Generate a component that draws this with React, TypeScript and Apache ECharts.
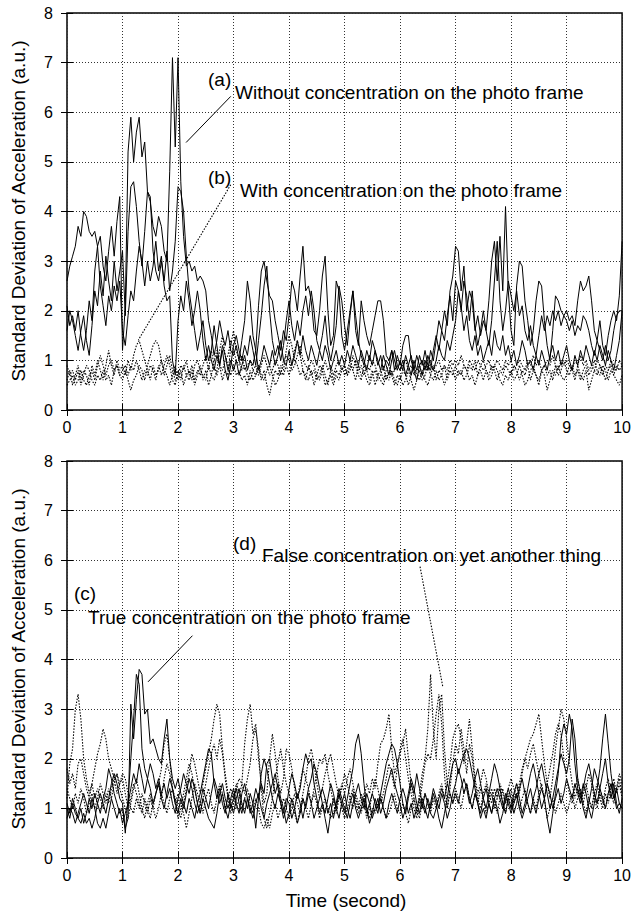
import React, { useEffect, useRef } from "react";
import * as echarts from "echarts";

const FONT = "'Liberation Sans', Arial, Helvetica, sans-serif";
const T_STEP = 0.05;

const xTicks = [0, 1, 2, 3, 4, 5, 6, 7, 8, 9, 10];
const yTicks = [0, 1, 2, 3, 4, 5, 6, 7, 8];

// ---- Top panel: (a) without concentration (solid) ----
const topSolid1 = [
  2.6,2.9,3.1,3.3,3.7,3.5,4.0,3.9,3.6,3.5,3.6,3.3,3.5,2.9,2.6,3.2,3.7,3.1,3.8,4.3,
  1.2,2.1,5.2,5.9,5.0,5.6,5.9,5.1,5.4,4.4,4.2,3.7,3.5,3.9,3.7,3.2,3.0,4.8,7.1,5.3,
  7.1,4.6,3.5,2.9,3.0,2.8,2.9,2.6,2.7,2.6,2.4,1.8,1.5,1.1,1.4,1.8,1.5,1.3,1.6,1.2,
  1.1,1.3,1.0,1.4,1.8,2.6,2.2,1.5,1.2,2.1,2.8,3.0,2.6,2.3,2.2,1.8,1.5,1.2,1.6,1.4,
  1.9,2.6,2.4,2.0,2.7,3.3,2.4,2.5,2.2,1.6,1.5,2.0,2.7,3.1,2.0,1.3,1.5,2.6,2.4,1.5,
  1.2,1.6,2.0,2.4,1.9,1.4,1.1,0.9,1.2,1.0,1.4,1.2,0.9,1.1,0.8,1.0,0.9,1.2,0.8,1.1,
  0.9,1.3,1.5,1.5,1.0,0.8,1.1,0.9,0.7,1.0,0.8,1.2,1.0,1.4,1.8,1.6,2.0,1.7,2.4,2.7,
  3.3,3.2,2.4,2.9,2.0,2.4,2.2,1.6,1.9,1.5,1.8,1.6,2.2,3.0,3.4,2.6,3.5,2.4,4.1,2.4,
  1.6,1.3,2.5,3.0,2.9,2.2,1.8,1.3,1.6,2.2,2.6,2.5,1.8,1.3,1.0,1.6,2.3,2.2,2.0,1.9,
  2.0,1.8,1.9,1.7,2.2,2.6,2.4,2.5,2.7,2.2,1.6,1.4,1.8,1.3,1.1,1.5,1.8,2.0,1.8,2.3,
  3.4,
];
const topSolid2 = [
  1.6,2.0,1.8,1.5,1.2,1.6,1.9,1.4,1.1,1.7,2.4,2.1,2.8,2.3,3.1,2.6,2.2,3.0,2.4,2.8,
  3.2,1.9,3.6,4.5,4.6,4.1,3.4,2.9,3.6,4.4,4.3,3.2,2.8,2.6,3.0,2.6,3.2,2.4,2.8,3.4,
  4.5,4.4,4.0,3.1,2.4,2.0,1.6,1.2,1.5,1.8,1.3,1.0,1.2,1.7,1.3,0.9,1.2,0.8,0.6,0.9,
  1.3,1.5,1.2,1.0,1.3,1.1,1.5,1.2,0.9,1.4,1.9,2.5,2.9,2.0,1.4,1.1,1.3,1.0,1.3,1.8,
  2.2,1.7,1.4,1.8,1.5,2.0,2.3,1.9,2.4,2.0,1.4,1.2,1.5,1.9,1.3,1.0,1.3,1.7,2.5,2.2,
  1.7,1.3,1.9,2.4,1.6,1.3,2.2,1.8,1.5,1.3,1.6,1.9,2.2,2.2,1.8,1.1,1.0,1.2,1.0,0.8,
  1.0,0.8,1.1,0.9,0.7,1.0,0.8,1.1,0.9,1.2,0.9,0.8,1.2,1.5,1.2,1.6,1.4,1.9,2.3,1.8,
  2.6,2.4,2.0,2.6,2.3,1.8,2.4,1.7,1.3,1.6,2.0,1.6,1.3,1.8,2.6,3.4,2.2,1.6,2.0,2.6,
  2.3,2.0,2.4,1.9,2.1,1.6,1.4,1.7,1.3,1.1,1.5,1.9,1.6,1.9,1.7,2.0,1.8,2.0,1.7,1.9,
  1.8,1.6,1.8,1.5,1.7,1.6,1.9,1.8,1.6,1.3,1.1,1.4,1.2,1.0,1.3,1.0,1.2,1.6,1.9,2.0,
  2.0,
];
const topSolid3 = [
  2.1,1.7,1.9,1.6,2.0,1.5,1.2,1.6,2.2,1.8,2.8,3.3,2.5,2.1,1.7,2.3,2.0,2.5,2.2,2.6,
  1.6,1.3,1.9,2.4,2.2,2.8,3.3,3.0,2.5,3.0,2.6,2.9,3.4,2.8,3.1,2.5,2.2,2.3,1.0,0.7,
  1.8,2.3,2.0,2.6,2.2,1.7,2.0,2.4,2.0,1.4,1.0,1.3,1.0,0.8,1.1,0.9,1.3,1.1,0.8,1.0,
  0.8,1.0,0.7,0.9,1.1,0.8,1.0,0.9,1.2,0.8,1.0,1.3,1.1,0.9,1.2,0.9,1.1,1.4,1.0,0.9,
  1.2,0.9,1.1,1.4,1.1,1.5,1.2,1.0,1.3,1.1,0.9,1.2,1.0,1.3,1.1,0.8,1.0,1.2,0.9,1.1,
  0.9,1.2,1.0,1.3,1.1,0.9,1.2,1.0,0.8,1.1,0.9,1.2,1.0,0.8,1.1,0.9,0.7,1.0,1.2,0.9,
  0.8,1.0,0.7,0.9,1.1,0.8,0.6,0.9,1.0,0.8,1.1,0.9,0.8,1.0,1.3,1.1,1.0,1.4,1.2,1.5,
  1.8,2.4,2.1,1.6,1.9,1.4,1.2,1.5,1.1,1.3,1.0,1.2,1.4,1.1,1.6,1.3,1.2,1.5,1.1,1.3,
  1.0,1.2,0.9,1.1,1.4,1.2,0.9,1.0,0.8,1.1,0.9,1.2,1.0,0.8,1.1,1.3,1.0,1.2,0.9,1.1,
  1.3,1.0,0.8,1.1,0.9,1.2,1.0,1.3,1.1,0.9,1.2,1.0,1.3,1.1,0.9,1.2,1.0,0.8,1.1,1.4,
  2.0,
];

// ---- Top panel: (b) with concentration (dotted) ----
const topDotted1 = [
  0.6,0.8,0.5,0.7,0.9,0.6,0.8,0.7,0.5,0.9,0.7,1.0,0.8,0.6,0.9,1.2,0.9,0.7,1.0,0.8,
  0.9,0.7,1.0,0.8,1.1,1.3,1.4,1.2,1.0,0.8,0.6,0.9,0.7,0.8,1.0,0.7,0.9,1.1,0.8,0.6,
  0.7,0.9,0.8,1.0,0.7,0.9,0.6,0.8,0.7,0.9,1.1,0.8,1.2,0.9,0.7,0.9,0.6,0.8,0.7,1.3,
  1.6,1.2,1.0,0.8,0.9,0.7,0.6,0.8,0.7,0.9,0.6,0.8,0.5,0.3,0.6,0.8,0.7,0.9,0.8,1.2,
  1.5,1.3,1.0,0.9,0.7,0.8,0.6,0.9,0.7,0.8,0.6,0.7,0.9,0.7,0.5,0.8,0.6,0.8,0.7,0.9,
  0.7,0.8,1.0,0.8,0.6,0.9,0.7,0.8,0.6,0.5,0.7,0.8,0.6,0.7,0.9,0.6,0.8,0.7,0.5,0.7,
  0.6,0.8,0.7,0.5,0.7,0.9,0.7,0.6,0.8,0.6,0.5,0.7,0.9,0.6,0.8,0.7,0.9,0.6,0.8,0.7,
  0.9,0.7,0.8,0.6,0.7,0.9,0.8,1.0,0.7,0.8,0.6,0.8,0.7,0.9,0.8,0.6,0.8,0.7,0.9,0.8,
  0.7,0.9,0.8,0.6,0.8,0.7,0.9,0.6,0.8,0.7,0.5,0.8,0.9,0.7,0.8,0.6,0.9,0.7,0.8,1.0,
  0.8,0.7,0.9,0.7,0.8,0.6,0.8,0.9,0.7,0.8,1.0,0.8,0.7,0.9,0.8,0.6,0.8,0.7,0.9,0.8,
  0.9,
];
const topDotted2 = [
  0.9,0.7,0.8,0.6,0.8,0.5,0.7,0.9,0.8,0.6,0.5,0.7,0.6,0.8,0.6,0.7,0.5,0.8,0.9,0.7,
  0.6,0.8,0.6,0.4,0.6,0.7,0.9,0.8,0.6,0.9,1.1,1.3,1.4,1.3,1.0,0.8,0.7,0.5,0.7,0.9,
  0.6,0.8,0.5,0.7,0.6,0.8,0.5,0.7,0.9,0.6,0.8,0.5,0.7,0.6,0.8,1.2,1.5,1.1,0.9,0.7,
  0.9,0.7,0.8,0.6,0.7,0.5,0.8,0.6,0.7,0.9,0.7,0.6,0.8,0.9,0.7,0.5,0.6,0.8,0.7,0.9,
  0.7,0.9,1.2,1.4,1.1,0.8,0.7,0.6,0.8,0.5,0.7,0.6,0.8,0.5,0.6,0.7,0.5,0.7,0.6,0.8,
  0.9,0.7,0.8,1.1,0.9,0.7,0.6,0.9,0.8,0.6,0.8,0.5,0.7,0.6,0.5,0.7,0.6,0.8,0.6,0.5,
  0.7,0.5,0.6,0.8,0.6,0.4,0.6,0.8,0.6,0.7,0.9,0.7,0.6,0.8,0.6,0.7,0.5,0.7,0.9,0.8,
  0.6,0.8,0.7,0.9,0.8,0.6,0.7,0.5,0.7,0.9,1.0,0.8,0.6,0.7,0.9,0.8,0.6,0.5,0.7,0.6,
  0.8,0.6,0.7,0.9,0.7,0.5,0.6,0.8,0.9,0.7,0.6,0.8,0.7,0.4,0.6,0.8,0.7,0.9,0.7,0.6,
  0.7,0.9,0.8,0.6,0.9,0.7,0.6,0.8,0.4,0.6,0.8,0.7,0.9,0.8,0.6,0.8,0.9,0.7,0.6,0.5,
  0.7,
];
const topDotted3 = [
  0.5,0.6,0.7,0.5,0.6,0.8,0.6,0.5,0.7,0.8,0.6,0.9,1.1,0.9,0.7,0.9,1.0,0.8,0.9,0.7,
  0.8,0.9,0.7,0.9,0.8,1.0,0.8,0.6,0.8,0.7,0.9,0.8,0.6,0.9,0.7,0.9,1.1,0.9,0.6,0.5,
  0.8,0.6,0.9,0.7,0.8,0.6,0.9,1.0,0.8,0.7,0.6,0.9,0.7,1.0,1.2,0.9,0.8,1.0,1.1,1.4,
  1.2,1.0,0.9,1.1,0.8,0.9,1.0,0.8,0.9,0.7,0.9,1.1,0.9,0.7,0.8,1.0,0.9,0.7,1.0,1.1,
  1.0,0.8,0.9,1.1,1.3,1.0,0.9,0.8,1.0,0.9,0.7,0.9,0.8,1.0,0.8,0.9,0.7,0.9,1.0,0.8,
  0.9,0.7,0.9,0.8,1.0,0.8,0.9,0.7,0.9,0.8,1.0,0.9,0.7,0.8,0.6,0.8,0.9,0.7,0.8,0.9,
  0.8,0.9,1.0,0.8,0.9,0.7,0.8,0.9,0.7,0.9,0.8,1.0,0.8,0.9,1.0,0.8,0.9,0.8,1.0,0.9,
  1.0,0.9,1.1,0.9,0.8,1.0,0.9,0.8,1.0,0.9,0.8,0.9,1.0,0.8,0.9,1.0,0.9,0.8,1.0,0.9,
  1.0,0.8,0.9,1.0,0.9,0.8,1.0,0.9,1.1,0.9,1.0,0.8,0.9,1.0,0.9,1.1,0.9,0.8,1.0,0.9,
  1.0,0.9,0.8,1.0,0.9,1.1,0.9,1.0,0.8,0.9,0.8,1.0,0.9,0.7,0.9,0.8,1.0,0.9,0.8,1.0,
  0.9,
];

// ---- Bottom panel: (c) true concentration (solid) ----
const botSolid1 = [
  1.0,0.8,1.1,0.9,0.8,1.0,0.7,0.9,1.2,1.0,1.3,1.1,0.9,1.2,1.4,1.8,1.6,1.3,1.1,0.9,
  1.0,0.6,0.8,3.1,2.4,3.2,3.8,3.7,2.9,3.0,2.3,2.4,2.2,2.0,1.9,2.4,2.8,2.0,1.6,1.4,
  1.6,1.3,1.1,0.9,1.2,1.0,0.8,1.1,1.3,1.6,1.9,2.2,2.1,1.5,1.2,1.4,1.1,0.9,1.3,1.0,
  1.2,1.4,1.1,0.9,1.2,1.0,1.3,1.1,0.6,1.2,1.7,2.0,1.8,1.5,1.2,1.0,1.3,1.1,0.8,1.0,
  1.4,1.7,1.5,1.2,1.4,1.8,2.1,1.9,2.0,1.5,1.2,0.9,1.1,0.8,0.5,0.9,1.2,1.0,1.3,1.1,
  0.9,1.2,1.5,1.8,2.3,2.5,2.1,1.5,1.0,0.7,0.9,1.2,1.0,1.3,1.6,1.9,2.1,2.3,2.2,1.9,
  1.5,1.1,0.9,1.2,1.5,1.3,1.7,1.4,1.1,0.9,1.2,1.0,1.3,1.1,0.8,0.6,0.9,1.2,1.6,1.9,
  2.0,1.7,1.9,2.1,2.2,2.0,1.7,1.4,1.1,0.9,1.2,1.0,1.3,1.6,1.9,1.7,1.4,1.1,0.9,1.2,
  1.0,1.3,1.5,1.2,0.9,1.1,1.4,1.7,1.9,1.6,1.3,1.0,1.2,0.8,0.5,0.9,1.3,1.7,2.4,2.7,
  2.5,2.9,2.6,1.9,1.4,1.2,1.5,1.3,1.0,0.8,1.1,1.4,1.8,2.4,2.9,2.3,1.7,1.3,1.0,1.1,
  1.0,
];
const botSolid2 = [
  1.1,0.9,1.2,1.0,0.8,0.7,0.9,0.7,0.8,0.6,0.8,1.1,1.3,1.1,0.9,1.2,1.5,1.7,1.5,1.2,
  1.1,0.5,1.2,2.0,2.8,3.7,3.5,2.2,1.8,1.6,1.9,1.7,1.4,1.6,1.3,1.5,1.2,1.4,1.1,0.9,
  1.2,1.4,1.7,1.5,1.3,1.6,1.4,1.1,0.9,1.2,1.0,0.8,0.7,0.6,0.9,1.3,1.5,1.2,1.0,1.2,
  1.4,1.1,0.9,1.3,1.5,1.2,0.9,1.1,1.4,1.2,1.5,1.3,1.9,2.0,1.6,1.3,1.5,1.2,1.0,0.7,
  0.9,1.2,1.0,1.3,1.1,0.8,1.1,1.4,1.6,1.9,1.7,1.4,1.1,0.9,1.2,1.5,1.3,1.0,0.8,1.1,
  1.3,1.0,0.8,1.1,1.3,1.5,1.2,1.0,1.3,1.1,0.8,1.0,1.2,0.9,1.1,1.4,1.6,1.8,1.5,1.3,
  1.1,0.8,1.0,1.3,1.6,1.4,1.1,0.9,1.2,1.0,0.8,1.1,1.4,1.2,1.0,1.3,1.1,0.8,1.0,1.3,
  1.5,1.8,1.6,1.3,1.5,1.2,1.0,1.3,1.1,0.8,1.0,0.8,1.1,0.9,1.2,1.0,0.7,0.9,1.2,1.4,
  1.2,0.9,1.1,1.4,1.6,1.3,1.1,0.9,1.2,1.4,1.7,1.9,1.6,1.3,1.0,1.2,1.5,1.8,2.1,1.9,
  1.7,2.0,2.8,2.4,1.6,1.3,1.0,0.8,1.1,1.4,1.8,1.6,1.4,1.7,2.0,1.5,1.2,1.5,1.1,0.9,
  1.2,
];
const botSolid3 = [
  0.8,1.0,0.9,0.7,0.9,1.1,1.3,1.1,0.9,1.2,1.0,0.7,0.6,0.8,0.6,0.9,1.2,1.0,0.8,1.0,
  0.7,0.9,1.1,1.4,1.7,1.5,1.9,1.6,1.3,1.6,1.4,1.1,1.3,1.5,1.2,1.0,1.3,1.6,1.4,1.1,
  0.9,1.2,1.0,1.3,1.6,1.4,1.1,0.9,1.1,1.4,1.2,1.0,1.3,1.6,1.4,1.1,1.3,1.0,0.8,1.1,
  0.9,1.2,1.4,1.1,0.9,1.2,1.0,0.8,1.1,1.3,1.0,0.8,1.1,1.3,1.5,1.7,1.4,1.1,0.9,1.2,
  1.1,0.8,1.0,0.7,0.9,1.2,1.0,1.3,1.1,0.8,1.0,1.2,1.4,1.2,0.9,1.1,0.8,1.1,1.4,1.2,
  1.0,0.8,1.1,1.3,1.0,0.8,1.0,1.2,0.9,1.1,1.3,1.1,0.9,1.2,1.0,0.8,1.1,1.3,1.1,0.9,
  1.2,1.4,1.2,0.9,1.1,0.8,1.0,1.2,1.0,1.3,1.1,0.9,0.8,1.0,1.2,1.4,1.2,1.5,1.3,1.1,
  1.3,1.1,1.4,1.6,1.4,1.1,1.3,1.6,1.8,1.5,1.2,1.4,1.1,0.9,1.2,1.4,1.2,1.0,1.3,1.1,
  0.9,1.1,1.3,1.0,0.8,1.0,1.2,1.4,1.1,0.9,1.2,1.4,1.2,1.5,1.3,1.0,1.2,1.4,1.1,1.3,
  1.6,1.4,1.2,1.5,1.3,1.1,1.4,1.7,1.9,1.6,1.3,1.1,1.4,1.2,1.0,1.3,1.5,1.2,1.4,1.1,
  1.0,
];

// ---- Bottom panel: (d) false concentration (dotted) ----
const botDotted1 = [
  1.2,1.9,2.2,3.0,3.3,2.8,2.0,1.6,1.3,1.5,1.2,1.4,1.2,1.0,1.3,1.1,1.4,1.6,1.3,1.5,
  1.7,1.6,1.3,1.0,0.9,1.2,1.0,1.3,1.1,0.9,1.2,1.0,1.3,1.5,1.2,1.6,1.9,1.7,1.4,1.2,
  1.0,0.8,1.1,1.4,1.7,2.1,1.9,1.6,1.3,1.5,1.8,2.1,2.4,2.8,3.1,2.9,2.2,1.7,1.3,1.1,
  1.3,1.0,1.2,1.5,2.3,2.8,3.1,2.5,2.7,2.0,1.5,1.1,1.3,2.0,2.5,2.1,1.6,1.3,1.6,2.2,
  2.1,1.8,1.4,1.2,1.5,1.8,1.6,2.0,2.2,1.9,1.5,1.2,1.4,1.7,1.9,2.1,1.8,1.5,1.2,1.4,
  1.7,1.5,1.2,1.0,1.3,1.1,0.9,1.2,1.5,1.3,1.6,1.4,1.9,2.3,2.4,2.6,2.9,2.2,1.7,1.9,
  2.1,2.3,2.6,2.0,1.5,1.2,0.9,1.3,1.7,2.0,2.6,3.7,2.6,2.0,3.0,3.3,2.2,1.5,1.9,2.4,
  2.6,2.7,2.4,1.9,2.3,2.8,2.2,1.6,1.3,1.5,1.8,1.6,1.3,1.1,1.4,1.2,1.5,1.3,1.1,1.4,
  1.6,1.4,1.2,1.5,1.8,2.0,2.2,2.4,2.5,2.7,2.9,2.4,1.9,1.5,1.2,1.6,2.2,2.6,3.0,2.8,
  2.4,1.9,1.5,1.2,1.4,1.1,1.3,1.5,1.2,1.0,1.3,1.1,1.4,1.2,1.0,1.3,1.5,1.2,1.4,1.6,
  1.3,
];
const botDotted2 = [
  1.8,1.5,1.7,1.4,1.9,2.0,1.7,1.4,1.2,1.5,1.8,2.1,2.3,2.6,2.4,2.0,1.8,1.6,1.7,1.5,
  1.6,1.3,1.0,1.2,1.5,1.3,1.1,0.9,1.2,1.0,0.8,1.1,1.3,1.5,1.8,2.3,2.5,2.0,1.4,1.1,
  0.8,1.0,1.3,1.6,1.9,1.7,1.4,1.1,0.9,1.2,1.5,1.8,2.1,2.3,2.0,2.4,2.1,1.6,1.2,0.9,
  1.1,1.4,1.6,1.5,1.3,1.6,1.9,2.4,2.6,2.2,1.4,0.8,0.6,0.9,1.2,1.6,1.9,2.2,1.8,1.5,
  1.3,1.1,0.9,0.7,1.0,1.3,1.6,1.4,1.1,1.4,1.7,2.0,1.9,2.1,1.7,1.4,1.1,0.9,1.2,1.5,
  1.3,1.6,1.8,1.5,1.2,1.0,1.3,1.1,0.8,1.0,1.3,1.6,1.4,1.1,1.3,1.6,1.9,1.7,1.4,1.8,
  2.2,2.4,2.0,1.6,1.3,1.0,0.8,1.1,1.5,1.9,2.1,2.0,2.4,2.9,3.3,2.7,1.7,1.0,1.4,1.9,
  2.3,2.1,2.6,2.2,1.7,2.3,2.0,1.5,1.2,1.0,1.3,1.5,1.2,1.4,1.1,0.9,1.2,1.4,1.1,1.3,
  1.0,1.2,1.5,1.3,1.7,2.0,1.8,2.1,2.3,2.0,1.7,1.4,1.2,1.5,1.8,2.1,2.5,2.7,2.5,2.0,
  1.6,1.3,1.1,1.4,1.6,1.3,1.1,1.4,1.7,1.5,1.2,1.0,1.3,1.1,1.4,1.6,1.3,1.1,1.4,1.7,
  1.5,
];
const botDotted3 = [
  1.4,1.2,1.0,1.3,1.1,1.4,1.2,0.9,1.1,1.3,1.0,1.2,1.5,1.3,1.1,1.4,1.2,1.5,1.7,1.4,
  1.2,1.0,0.8,1.1,1.4,1.6,1.3,1.0,0.8,1.1,1.3,1.0,0.8,1.0,1.3,1.1,0.9,1.2,1.4,1.1,
  1.3,1.1,0.9,0.6,0.9,1.2,1.5,1.3,1.1,0.9,1.2,1.4,1.1,0.9,1.2,1.5,1.3,1.0,1.2,1.4,
  1.2,1.5,1.3,1.0,1.2,1.4,1.1,0.9,1.2,1.0,0.7,0.6,0.8,0.6,0.9,1.1,0.8,1.0,1.2,1.0,
  0.8,1.0,1.3,1.1,0.9,1.2,1.0,0.8,1.1,1.3,1.1,0.8,1.0,1.2,1.0,0.8,0.9,1.1,1.3,1.0,
  0.8,1.0,1.2,1.4,1.1,0.9,1.1,1.3,1.0,0.8,1.0,0.9,1.1,1.3,1.0,0.8,0.9,1.1,1.3,1.0,
  0.9,1.1,0.9,0.7,1.0,1.2,1.0,0.8,1.1,1.3,1.1,0.9,1.2,1.0,1.3,1.5,1.2,1.0,1.3,1.1,
  1.4,1.2,1.0,1.3,1.5,1.2,1.0,1.3,1.1,1.4,1.2,0.9,1.1,1.3,1.0,1.2,1.4,1.1,0.9,1.2,
  1.4,1.1,1.3,1.0,1.2,1.4,1.1,0.9,1.2,1.0,1.3,1.5,1.2,0.8,1.0,1.2,0.9,1.1,1.3,1.1,
  0.9,1.1,1.3,1.0,1.2,1.4,1.1,0.9,1.2,1.0,1.3,1.5,1.2,1.0,1.3,1.1,1.4,1.6,1.3,1.5,
  1.2,
];

// Annotation pointers (data coordinates: [time, value])
const pointerA = [[2.95, 6.32], [2.145, 5.39]];
const pointerB = [[2.95, 4.54], [1.285, 1.41]];
const pointerC = [[2.26, 4.48], [1.46, 3.55]];
const pointerD = [[6.36, 5.87], [6.77, 3.45]];

const toPairs = (vals: number[]) =>
  vals.map((v, i) => [Math.round(i * T_STEP * 100) / 100, v]);

export default function App() {
  const ref = useRef<HTMLDivElement>(null);

  useEffect(() => {
    if (!ref.current) return;
    const chart = echarts.init(ref.current, undefined, { renderer: "svg" });

    const grids = [
      { left: 67, top: 13, width: 558, height: 397 },
      { left: 67, top: 461, width: 558, height: 397 },
    ].map((g) => ({
      ...g,
      show: true,
      borderColor: "#000",
      borderWidth: 1.5,
      backgroundColor: "transparent",
      containLabel: false,
    }));

    const gridLine = { show: true, lineStyle: { color: "#333", type: [1, 2], width: 1 } };
    const tick = { show: true, inside: true, length: 6, lineStyle: { color: "#000", width: 1 } };

    const xAxes: any[] = [];
    const yAxes: any[] = [];
    [0, 1].forEach((gi) => {
      xAxes.push({
        type: "value", gridIndex: gi, min: xTicks[0], max: xTicks[xTicks.length - 1], interval: 1,
        position: "bottom",
        axisLine: { show: false }, axisTick: tick, splitLine: gridLine,
        axisLabel: { fontSize: 16, color: "#000", margin: 9, fontFamily: FONT },
      });
      xAxes.push({
        type: "value", gridIndex: gi, min: xTicks[0], max: xTicks[xTicks.length - 1], interval: 1,
        position: "top",
        axisLine: { show: false }, axisTick: tick, splitLine: { show: false },
        axisLabel: { show: false },
      });
      yAxes.push({
        type: "value", gridIndex: gi, min: yTicks[0], max: yTicks[yTicks.length - 1], interval: 1,
        position: "left",
        axisLine: { show: false }, axisTick: tick, splitLine: gridLine,
        axisLabel: { fontSize: 16, color: "#000", margin: 14, fontFamily: FONT },
      });
      yAxes.push({
        type: "value", gridIndex: gi, min: yTicks[0], max: yTicks[yTicks.length - 1], interval: 1,
        position: "right",
        axisLine: { show: false }, axisTick: tick, splitLine: { show: false },
        axisLabel: { show: false },
      });
    });

    const mk = (vals: any[], panel: number, dotted: boolean, pairs = true) => ({
      type: "line",
      xAxisIndex: panel * 2,
      yAxisIndex: panel * 2,
      data: pairs ? toPairs(vals) : vals,
      showSymbol: false,
      symbol: "none",
      silent: true,
      clip: true,
      z: dotted ? 2 : 3,
      lineStyle: dotted
        ? { color: "#000", width: 1.1, type: [1.5, 1.5] }
        : { color: "#000", width: 1, type: "solid" },
    });

    const series: any[] = [
      mk(topDotted1, 0, true),
      mk(topDotted2, 0, true),
      mk(topDotted3, 0, true),
      mk(topSolid3, 0, false),
      mk(topSolid2, 0, false),
      mk(topSolid1, 0, false),
      mk(botDotted3, 1, true),
      mk(botDotted2, 1, true),
      mk(botDotted1, 1, true),
      mk(botSolid3, 1, false),
      mk(botSolid2, 1, false),
      mk(botSolid1, 1, false),
      mk(pointerA, 0, false, false),
      mk(pointerB, 0, true, false),
      mk(pointerC, 1, false, false),
      mk(pointerD, 1, true, false),
    ];

    const txt = (text: string, x: number, y: number, extra: any = {}) => ({
      type: "text",
      x,
      y,
      silent: true,
      z: 100,
      ...extra,
      style: {
        text,
        fontSize: 19,
        fontFamily: FONT,
        fill: "#000",
        align: "left",
        verticalAlign: "middle",
        ...(extra.style || {}),
      },
    });

    const yName = "Standard Deviation of Acceleration (a.u.)";

    chart.setOption({
      animation: false,
      backgroundColor: "#fff",
      grid: grids,
      xAxis: xAxes,
      yAxis: yAxes,
      series,
      graphic: [
        txt("(a)", 208, 79),
        txt("Without concentration on the photo frame", 235, 92),
        txt("(b)", 208, 177),
        txt("With concentration on the photo frame", 240, 190),
        txt("(c)", 74, 593),
        txt("True concentration on the photo frame", 88, 617),
        txt("(d)", 233, 543),
        txt("False concentration on yet another thing", 262, 555),
        txt(yName, 18, 211, { rotation: Math.PI / 2, style: { align: "center" } }),
        txt(yName, 18, 659, { rotation: Math.PI / 2, style: { align: "center" } }),
        txt("Time (second)", 346, 900, { style: { align: "center" } }),
      ],
    });

    return () => chart.dispose();
  }, []);

  return (
    <div
      ref={ref}
      style={{ position: "fixed", left: 0, top: 0, width: 634, height: 913, background: "#fff" }}
    />
  );
}
